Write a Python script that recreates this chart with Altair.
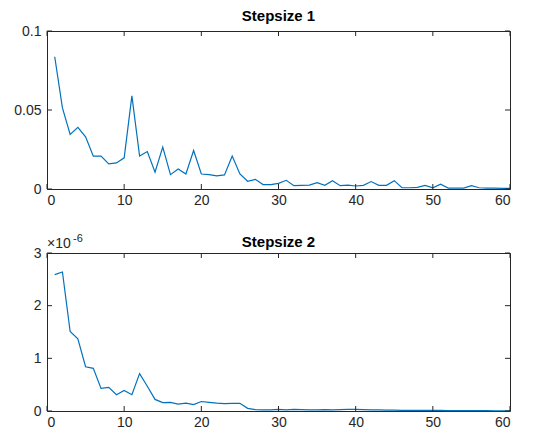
import altair as alt
import pandas as pd

# ---- data ----
x_vals = list(range(1, 61))
step1 = [0.0837, 0.0513, 0.0345, 0.0390, 0.0330, 0.0208, 0.0208, 0.0159, 0.0165, 0.0197,
         0.0589, 0.0208, 0.0237, 0.0106, 0.0265, 0.0091, 0.0127, 0.0095, 0.0244, 0.0095,
         0.0091, 0.0083, 0.0089, 0.0208, 0.0095, 0.0049, 0.0061, 0.0028, 0.0028, 0.0036,
         0.0055, 0.0021, 0.0023, 0.0025, 0.0040, 0.0023, 0.0053, 0.0021, 0.0025, 0.0019,
         0.0023, 0.0047, 0.0023, 0.0023, 0.0053, 0.0008, 0.0008, 0.0010, 0.0023, 0.0008,
         0.0030, 0.0006, 0.0006, 0.0006, 0.0021, 0.0008, 0.0006, 0.0006, 0.0004, 0.0004]
# values in units of 1e-6
step2_e6 = [2.59, 2.64, 1.51, 1.37, 0.84, 0.81, 0.43, 0.45, 0.31, 0.39,
            0.31, 0.71, 0.47, 0.22, 0.16, 0.165, 0.13, 0.15, 0.12, 0.18,
            0.165, 0.15, 0.14, 0.145, 0.145, 0.05, 0.025, 0.02, 0.02, 0.03,
            0.02, 0.03, 0.025, 0.02, 0.02, 0.025, 0.02, 0.025, 0.03, 0.03,
            0.025, 0.02, 0.02, 0.015, 0.015, 0.012, 0.01, 0.01, 0.01, 0.01,
            0.01, 0.008, 0.008, 0.008, 0.007, 0.006, 0.006, 0.005, 0.005, 0.005]
step2 = [v * 1e-6 for v in step2_e6]

x_ticks = [0, 10, 20, 30, 40, 50, 60]
y1_ticks = [0, 0.05, 0.1]
y2_ticks = [0, 1e-6, 2e-6, 3e-6]

W, H = 463, 158
TICK = 5
FONT = "Liberation Sans"
AXC = "#262626"
LINE = "#0072BD"


def panel(yvals, yticks, ymax, title, label_expr, title_offset, exponent=False):
    df = pd.DataFrame({"x": x_vals, "y": yvals})
    xs = alt.Scale(domain=[0, 60], nice=False)
    ys = alt.Scale(domain=[0, ymax], nice=False)
    line = alt.Chart(df).mark_line(color=LINE, strokeWidth=1.2).encode(
        x=alt.X("x:Q", scale=xs, title=None,
                axis=alt.Axis(values=x_ticks, ticks=False, domain=False, grid=False,
                              labelFont=FONT, labelFontSize=14, labelColor=AXC,
                              labelPadding=4)),
        y=alt.Y("y:Q", scale=ys, title=None,
                axis=alt.Axis(values=yticks, ticks=False, domain=False, grid=False,
                              labelFont=FONT, labelFontSize=14, labelColor=AXC,
                              labelPadding=6, labelExpr=label_expr)),
    )
    xt = pd.DataFrame({"t": x_ticks})
    yt = pd.DataFrame({"t": yticks})
    bx = alt.Chart(xt).mark_rule(color=AXC, strokeWidth=1).encode(
        x=alt.X("t:Q", scale=xs), y=alt.value(H), y2=alt.value(H - TICK))
    tx = alt.Chart(xt).mark_rule(color=AXC, strokeWidth=1).encode(
        x=alt.X("t:Q", scale=xs), y=alt.value(0), y2=alt.value(TICK))
    ly = alt.Chart(yt).mark_rule(color=AXC, strokeWidth=1).encode(
        y=alt.Y("t:Q", scale=ys), x=alt.value(0), x2=alt.value(TICK))
    ry = alt.Chart(yt).mark_rule(color=AXC, strokeWidth=1).encode(
        y=alt.Y("t:Q", scale=ys), x=alt.value(W - TICK), x2=alt.value(W))
    layers = [line, bx, tx, ly, ry]
    if exponent:
        base = alt.Chart(pd.DataFrame({"s": ["×10"]})).mark_text(
            font=FONT, fontSize=14, color=AXC, align="left", baseline="alphabetic"
        ).encode(text="s:N", x=alt.value(0), y=alt.value(-5))
        sup = alt.Chart(pd.DataFrame({"s": ["-6"]})).mark_text(
            font=FONT, fontSize=11, color=AXC, align="left", baseline="alphabetic"
        ).encode(text="s:N", x=alt.value(26), y=alt.value(-11))
        layers += [base, sup]
    return alt.layer(*layers).properties(
        width=W, height=H,
        title=alt.TitleParams(title, font=FONT, fontSize=15, fontWeight="bold",
                              color="#000000", offset=title_offset),
    )


p1 = panel(step1, y1_ticks, 0.1, "Stepsize 1", "format(datum.value, '~g')", 0)
p2 = panel(step2, y2_ticks, 3e-6, "Stepsize 2", "format(datum.value * 1e6, '~g')", -17,
           exponent=True)

chart = alt.vconcat(p1, p2, spacing=24).configure_view(
    stroke=AXC, strokeWidth=1
).properties(background="white", padding={"left": 5, "top": 0, "right": 5, "bottom": 5})

chart.save("out.html", embed_options={"renderer": "svg", "actions": False})
